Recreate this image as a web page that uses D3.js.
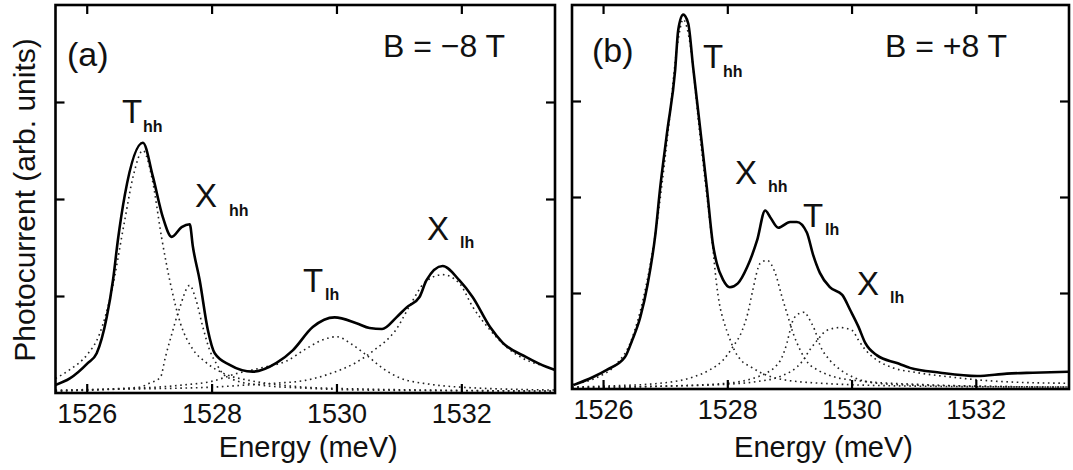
<!DOCTYPE html>
<html><head><meta charset="utf-8">
<script src="https://cdn.jsdelivr.net/npm/d3@7"></script>
<style>
html,body{margin:0;padding:0;background:#fff;}
svg{display:block;font-family:"Liberation Sans",Arial,sans-serif;}
</style></head>
<body>
<svg id="chart" width="1073" height="470"></svg>
<script>
// ---------- DATA ----------
const xTicks = [1526, 1528, 1530, 1532];
const xTickLabels = ["1526", "1528", "1530", "1532"];
const yTicks = [1, 2, 3];
const xDomain = [1525.5, 1533.5];
const yDomain = [0, 4];
const xLabel = "Energy (meV)";
const yLabel = "Photocurrent (arb. units)";

// Panel (a), B = -8 T : measured spectrum
const aE = [1525.49,1525.73,1526.02,1526.16,1526.32,1526.42,1526.50,1526.61,1526.90,1527.06,1527.22,1527.36,1527.52,1527.65,1527.70,1527.81,1527.94,1528.05,1528.29,1528.66,1529.04,1529.30,1529.62,1529.97,1530.32,1530.53,1530.73,1530.96,1531.12,1531.33,1531.44,1531.70,1531.97,1532.18,1532.46,1532.66,1533.04,1533.36,1533.49];
const aV = [0.08,0.15,0.31,0.41,0.78,1.16,1.58,2.04,2.58,2.23,1.81,1.61,1.71,1.74,1.51,1.16,0.65,0.41,0.29,0.22,0.31,0.44,0.68,0.78,0.72,0.67,0.66,0.78,0.88,0.99,1.16,1.31,1.16,0.99,0.68,0.52,0.37,0.27,0.24];
// Panel (a) fitted components
const aThhE = [1525.5,1525.75,1526.0,1526.2,1526.4,1526.6,1526.75,1526.9,1527.05,1527.2,1527.35,1527.5,1527.7,1527.9,1528.2,1528.6,1529.0,1529.5,1530.5,1531.5,1533.5];
const aThhV = [0.15,0.25,0.39,0.6,1.05,1.75,2.25,2.5,2.2,1.6,1.1,0.72,0.45,0.32,0.2,0.13,0.09,0.06,0.04,0.03,0.02];
const aXhhE = [1525.5,1526.3,1526.85,1527.0,1527.18,1527.26,1527.35,1527.48,1527.65,1527.75,1527.86,1527.97,1528.07,1528.18,1528.38,1528.8,1529.5,1530.5,1533.5];
const aXhhV = [0.02,0.04,0.06,0.1,0.16,0.37,0.58,0.86,1.11,0.96,0.68,0.44,0.31,0.2,0.13,0.08,0.05,0.03,0.02];
const aTlhE = [1525.5,1526.5,1527.5,1528.0,1528.4,1528.8,1529.2,1529.5,1529.75,1530.0,1530.25,1530.5,1530.75,1531.0,1531.5,1532.0,1533.5];
const aTlhV = [0.02,0.04,0.08,0.12,0.2,0.26,0.33,0.45,0.54,0.58,0.5,0.38,0.25,0.16,0.09,0.06,0.03];
const aXlhE = [1525.5,1526.5,1527.5,1528.0,1528.5,1529.0,1529.5,1529.9,1530.3,1530.6,1530.95,1531.2,1531.4,1531.7,1531.97,1532.18,1532.46,1532.73,1532.98,1533.36,1533.5];
const aXlhV = [0.03,0.04,0.05,0.06,0.08,0.1,0.13,0.2,0.31,0.44,0.65,0.93,1.13,1.22,1.13,0.89,0.65,0.47,0.36,0.27,0.24];

// Panel (b), B = +8 T : measured spectrum
const bE = [1525.52,1525.84,1526.06,1526.35,1526.47,1526.6,1526.72,1526.84,1526.92,1527.03,1527.16,1527.21,1527.29,1527.37,1527.45,1527.56,1527.67,1527.77,1527.83,1527.93,1528.04,1528.17,1528.32,1528.48,1528.61,1528.69,1528.82,1529.01,1529.12,1529.28,1529.38,1529.49,1529.65,1529.85,1529.98,1530.11,1530.22,1530.41,1530.73,1530.94,1531.43,1532.02,1532.5,1532.92,1533.5];
const bV = [0.04,0.125,0.2,0.33,0.51,0.75,1.1,1.6,2.1,2.67,3.32,3.74,3.9,3.81,3.35,2.73,2.1,1.5,1.31,1.14,1.06,1.1,1.27,1.55,1.86,1.79,1.68,1.74,1.74,1.63,1.4,1.21,1.06,0.98,0.82,0.65,0.48,0.35,0.27,0.22,0.17,0.135,0.16,0.17,0.18];
// Panel (b) fitted components
const bThhE = [1525.5,1525.9,1526.2,1526.45,1526.65,1526.85,1527.05,1527.2,1527.29,1527.4,1527.55,1527.7,1527.77,1527.82,1527.87,1527.95,1528.03,1528.11,1528.22,1528.38,1528.54,1528.8,1529.5,1531.0,1533.5];
const bThhV = [0.05,0.12,0.25,0.5,0.95,1.65,2.7,3.6,3.85,3.6,2.7,1.85,1.45,1.13,0.9,0.69,0.54,0.41,0.3,0.23,0.17,0.11,0.06,0.03,0.02];
const bXhhE = [1525.5,1526.0,1526.92,1527.45,1527.72,1527.93,1528.09,1528.24,1528.33,1528.41,1528.53,1528.64,1528.77,1528.88,1528.96,1529.06,1529.17,1529.3,1529.45,1529.7,1530.2,1531.0,1532.0,1533.5];
const bXhhV = [0.02,0.03,0.06,0.125,0.2,0.3,0.44,0.61,0.79,1.03,1.31,1.34,1.21,0.96,0.79,0.58,0.41,0.27,0.2,0.13,0.08,0.05,0.03,0.02];
const bTlhE = [1525.5,1527.0,1528.0,1528.41,1528.64,1528.77,1528.88,1528.96,1529.01,1529.06,1529.17,1529.25,1529.3,1529.41,1529.49,1529.65,1529.82,1530.02,1530.41,1531.0,1533.5];
const bTlhV = [0.01,0.03,0.06,0.11,0.17,0.23,0.33,0.48,0.61,0.72,0.79,0.8,0.75,0.61,0.46,0.3,0.2,0.125,0.06,0.04,0.02];
const bXlhE = [1525.5,1527.0,1528.0,1528.5,1528.85,1529.22,1529.33,1529.45,1529.6,1529.82,1530.01,1530.11,1530.22,1530.41,1530.67,1531.06,1531.59,1532.12,1532.67,1533.47];
const bXlhV = [0.02,0.03,0.05,0.08,0.13,0.3,0.41,0.51,0.61,0.64,0.61,0.51,0.41,0.3,0.22,0.17,0.125,0.09,0.07,0.06];

// Annotations
const panelTags = ["(a)", "(b)"];
const fieldLabels = ["B = \u22128 T", "B = +8 T"];
const peakNames = ["T", "X", "T", "X"];
const peakSubs = ["hh", "hh", "lh", "lh"];

// ---------- DRAWING ----------
const svg = d3.select("#chart");
const zip = (E, V) => E.map((e, i) => [e, V[i]]);

const panels = [
  { box: {l: 55.5, r: 555, t: 5, b: 393}, solid: zip(aE, aV),
    comps: [zip(aThhE, aThhV), zip(aXhhE, aXhhV), zip(aTlhE, aTlhV), zip(aXlhE, aXlhV)],
    tag: panelTags[0], tagPos: [67, 66], field: fieldLabels[0], fieldPos: [383, 57],
    labels: [[122,123,143,132],[195,207,229,216],[303,292,325,300],[427,240,460,248]] },
  { box: {l: 572, r: 1069, t: 5, b: 389}, solid: zip(bE, bV),
    comps: [zip(bThhE, bThhV), zip(bXhhE, bXhhV), zip(bTlhE, bTlhV), zip(bXlhE, bXlhV)],
    tag: panelTags[1], tagPos: [592, 62], field: fieldLabels[1], fieldPos: [885, 57],
    labels: [[703,68,723,77],[735,184,768,192],[803,227,825,235],[857,295,890,303]] }
];

panels.forEach((p) => {
  const {l, r, t, b} = p.box;
  const x = d3.scaleLinear().domain(xDomain).range([l, r]);
  const y = d3.scaleLinear().domain(yDomain).range([b, t]);
  const g = svg.append("g");
  const clipId = "clip" + Math.round(l);
  svg.append("clipPath").attr("id", clipId).append("rect")
    .attr("x", l).attr("y", t).attr("width", r - l).attr("height", b - t);

  const line = d3.line().x(d => x(d[0])).y(d => y(d[1])).curve(d3.curveMonotoneX);

  const plot = g.append("g").attr("clip-path", `url(#${clipId})`);
  p.comps.forEach(c => {
    plot.append("path").attr("d", line(c)).attr("fill", "none")
      .attr("stroke", "#222").attr("stroke-width", 1.6)
      .attr("stroke-dasharray", "1.6 3.6");
  });
  plot.append("path").attr("d", line(p.solid)).attr("fill", "none")
    .attr("stroke", "#000").attr("stroke-width", 2.6).attr("stroke-linejoin", "round");

  // axes with inward ticks
  const tk = 9;
  const ax = (gen, tx, ty) => {
    const a = g.append("g").attr("transform", `translate(${tx},${ty})`).call(gen);
    a.select(".domain").remove();
    a.selectAll(".tick line").attr("stroke", "#000").attr("stroke-width", 2.2);
    return a;
  };
  const bottom = ax(d3.axisBottom(x).tickValues(xTicks).tickSize(-tk).tickPadding(11)
    .tickFormat((d, i) => xTickLabels[i]), 0, b);
  bottom.selectAll(".tick text").attr("font-size", 27).attr("fill", "#111")
    .attr("font-family", "Liberation Sans, Arial, sans-serif");
  ax(d3.axisTop(x).tickValues(xTicks).tickSize(-tk).tickFormat(""), 0, t);
  ax(d3.axisLeft(y).tickValues(yTicks).tickSize(-tk).tickFormat(""), l, 0);
  ax(d3.axisRight(y).tickValues(yTicks).tickSize(-tk).tickFormat(""), r, 0);

  g.append("rect").attr("x", l).attr("y", t).attr("width", r - l).attr("height", b - t)
    .attr("fill", "none").attr("stroke", "#000").attr("stroke-width", 2.6);

  // x label
  g.append("text").attr("x", (l + r) / 2 + 3).attr("y", 457).attr("text-anchor", "middle")
    .attr("font-size", 29).attr("fill", "#111").text(xLabel);

  // tag and field
  g.append("text").attr("x", p.tagPos[0]).attr("y", p.tagPos[1]).attr("font-size", 34)
    .attr("fill", "#111").text(p.tag);
  g.append("text").attr("x", p.fieldPos[0]).attr("y", p.fieldPos[1]).attr("font-size", 32)
    .attr("fill", "#111").text(p.field);

  p.labels.forEach((L, i) => {
    g.append("text").attr("x", L[0]).attr("y", L[1]).attr("font-size", 33)
      .attr("fill", "#111").text(peakNames[i]);
    g.append("text").attr("x", L[2]).attr("y", L[3]).attr("font-size", 16)
      .attr("font-weight", "bold").attr("fill", "#111").text(peakSubs[i]);
  });
});

// y label
svg.append("text").attr("transform", "translate(35,200) rotate(-90)")
  .attr("text-anchor", "middle").attr("font-size", 30).attr("fill", "#111").text(yLabel);
</script>
</body></html>
